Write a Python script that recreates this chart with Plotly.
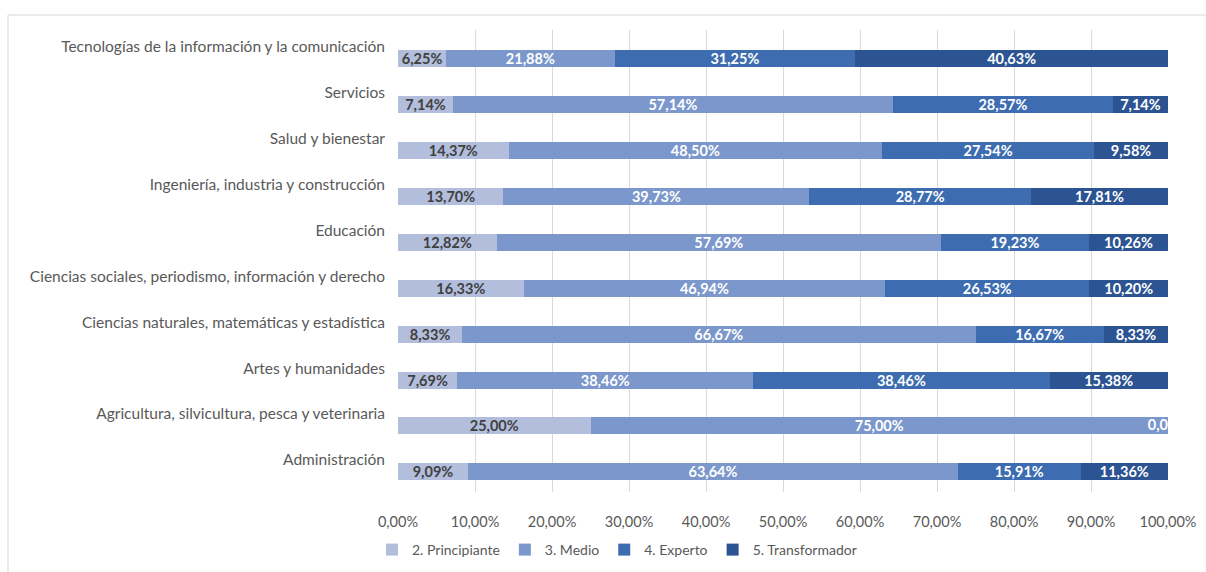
import plotly.graph_objects as go

categories = [
    "Administración",
    "Agricultura, silvicultura, pesca y veterinaria",
    "Artes y humanidades",
    "Ciencias naturales, matemáticas y estadística",
    "Ciencias sociales, periodismo, información y derecho",
    "Educación",
    "Ingeniería, industria y construcción",
    "Salud y bienestar",
    "Servicios",
    "Tecnologías de la información y la comunicación",
]
principiante = [9.09, 25.00, 7.69, 8.33, 16.33, 12.82, 13.70, 14.37, 7.14, 6.25]
medio = [63.64, 75.00, 38.46, 66.67, 46.94, 57.69, 39.73, 48.50, 57.14, 21.88]
experto = [15.91, 0.00, 38.46, 16.67, 26.53, 19.23, 28.77, 27.54, 28.57, 31.25]
transformador = [11.36, 0.00, 15.38, 8.33, 10.20, 10.26, 17.81, 9.58, 7.14, 40.63]

series_names = ["2. Principiante", "3. Medio", "4. Experto", "5. Transformador"]
series_values = [principiante, medio, experto, transformador]

tick_values = [0, 10, 20, 30, 40, 50, 60, 70, 80, 90, 100]
tick_labels = ["0,00%", "10,00%", "20,00%", "30,00%", "40,00%", "50,00%",
               "60,00%", "70,00%", "80,00%", "90,00%", "100,00%"]

colors = ["#b2bedc", "#7c97cb", "#3d6cb0", "#2c5392"]
text_colors = ["#404040", "#ffffff", "#ffffff", "#ffffff"]

FONT = "Lato"
W, H = 1206, 572
ML, MR, MT, MB = 398, 38, 30, 80
BAR_W = 0.37
BAR_OFF = -0.445
Y_RANGE = [-0.70, 9.37]


def pct(v):
    return f"{v:.2f}".replace(".", ",") + "%"


fig = go.Figure()
for name, vals, col, tcol in zip(series_names, series_values, colors, text_colors):
    fig.add_trace(go.Bar(
        y=categories, x=vals, name=name, orientation="h",
        marker=dict(color=col, line=dict(width=0)),
        width=BAR_W, offset=BAR_OFF,
        text=[pct(v) for v in vals],
        textposition="inside", insidetextanchor="middle",
        textfont=dict(family=FONT, size=14.5, color=tcol, weight="bold"),
        constraintext="none",
    ))

# labels of zero-width segments (at their stacked position, clipped by the plot area)
zx, zy, zt = [], [], []
for i, cat in enumerate(categories):
    cum = 0.0
    for vals in series_values:
        if vals[i] == 0:
            zx.append(cum)
            zy.append(i + BAR_OFF + BAR_W / 2)
            zt.append(pct(vals[i]))
            break
        cum += vals[i]
fig.add_trace(go.Scatter(
    x=zx, y=zy, mode="text", text=zt, showlegend=False, cliponaxis=True,
    yaxis="y2",
    textfont=dict(family=FONT, size=14.5, color="#ffffff", weight="bold"),
    textposition="middle center", hoverinfo="skip",
))

fig.update_layout(
    barmode="stack",
    width=W, height=H,
    margin=dict(l=ML, r=MR, t=MT, b=MB, pad=0, autoexpand=False),
    paper_bgcolor="white", plot_bgcolor="white",
    font=dict(family=FONT, color="#595959", size=14),
    showlegend=True,
    legend=dict(
        orientation="h", x=617 / W, xref="container", xanchor="center",
        y=1 - 550 / H, yref="container", yanchor="middle",
        font=dict(family=FONT, size=14, color="#595959"),
        traceorder="normal", itemwidth=30,
    ),
    xaxis=dict(
        range=[0, 100], tickvals=tick_values, ticktext=tick_labels,
        showgrid=True, gridcolor="#d9d9d9", gridwidth=1,
        zeroline=False, showline=False, ticks="",
        tickfont=dict(family=FONT, size=14.5, color="#595959"),
        ticklabelstandoff=19,
    ),
    yaxis=dict(
        type="category", categoryorder="array", categoryarray=categories,
        range=Y_RANGE,
        showgrid=False, zeroline=False, showline=False, ticks="",
        tickfont=dict(family=FONT, size=15.5, color="#595959"),
        ticklabelstandoff=12,
    ),
    yaxis2=dict(
        overlaying="y", range=Y_RANGE, visible=False, showgrid=False,
        zeroline=False,
    ),
    shapes=[
        dict(type="line", xref="paper", yref="paper",
             x0=(8 - ML) / (W - ML - MR), x1=(W + 5 - ML) / (W - ML - MR),
             y0=(H - MB - 15) / (H - MT - MB), y1=(H - MB - 15) / (H - MT - MB),
             line=dict(color="#d9d9d9", width=1)),
        dict(type="line", xref="paper", yref="paper",
             x0=(8 - ML) / (W - ML - MR), x1=(8 - ML) / (W - ML - MR),
             y0=(H - MB - 15) / (H - MT - MB), y1=(H - MB - H - 5) / (H - MT - MB),
             line=dict(color="#d9d9d9", width=1)),
    ],
)

fig.write_html("out.html")
